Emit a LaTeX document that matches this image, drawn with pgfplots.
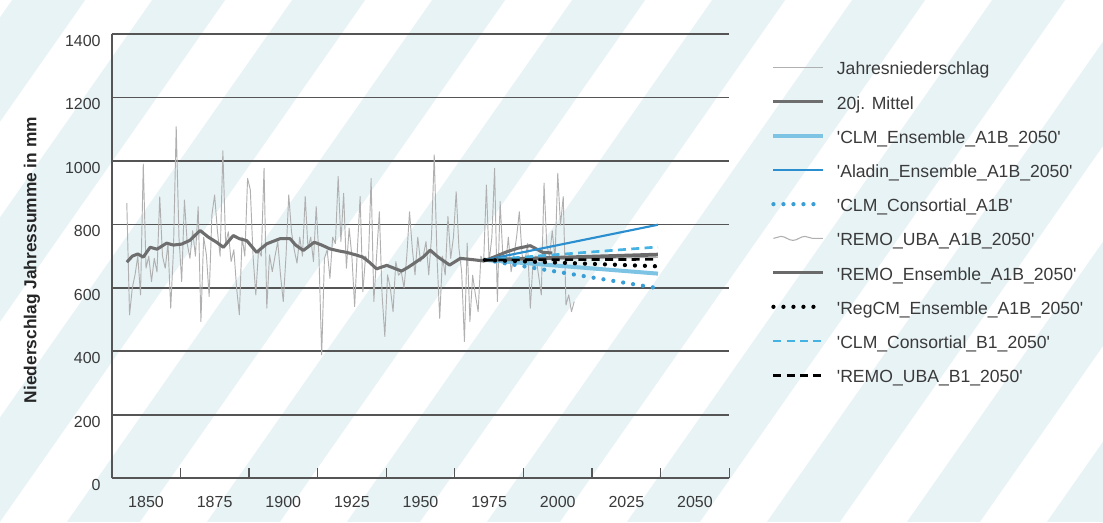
\documentclass[border=0pt]{standalone}
\usepackage{fontspec}
\setmainfont{Liberation Sans}
\usepackage{pgfplots}
\pgfplotsset{compat=1.18}
\usetikzlibrary{decorations.pathmorphing}
\definecolor{bgblue}{HTML}{E8F3F6}
\definecolor{gridgray}{HTML}{555555}
\definecolor{txtgray}{HTML}{3A3A3A}
\definecolor{annual}{HTML}{B0B0B0}
\definecolor{meangray}{HTML}{6E6E6E}
\definecolor{clmens}{HTML}{7CC3E4}
\definecolor{aladin}{HTML}{2A8ECF}
\definecolor{clmcons}{HTML}{3A9ED6}
\definecolor{remouba}{HTML}{B0B0B0}
\definecolor{remoens}{HTML}{6A6A6A}
\definecolor{clmb}{HTML}{44B2E2}
\newcommand{\q}{\textquotesingle}
\pgfplotsset{snakeimg/.style={legend image code/.code={\draw[##1, decorate, decoration={snake, amplitude=1.5pt, segment length=18pt}] (0pt,1pt) -- (37pt,1pt);}}}
\begin{document}
\begin{tikzpicture}
\begin{scope}
\clip (0,0) rectangle (827.25pt,391.5pt);
\fill[bgblue] (0,0) rectangle (827.25pt,391.5pt);
\foreach \i in {-4,...,9} {
  \fill[white] (\i*105pt,0) -- ++(50pt,0) -- ++(274pt,391.5pt) -- ++(-50pt,0) -- cycle;
}
\end{scope}
\begin{axis}[
  at={(83.78pt,32.78pt)}, anchor=south west,
  scale only axis, width=463.2pt, height=333.2pt,
  xmin=1837.5, xmax=2062.5, ymin=0, ymax=1400,
  axis x line*=bottom, axis y line*=left,
  axis line style={draw=gridgray, line width=1.2pt},
  xtick={1850,1875,1900,1925,1950,1975,2000,2025,2050},
  minor xtick={1862.5,1887.5,1912.5,1937.5,1962.5,1987.5,2012.5,2037.5,2062.5},
  ytick={0,200,400,600,800,1000,1200,1400},
  major tick length=0pt,
  minor tick length=8pt,
  tick align=inside,
  minor tick style={draw=gridgray, line width=1pt},
  ymajorgrids,
  major grid style={draw=gridgray, line width=1.3pt},
  xticklabel style={font=\fontsize{12}{14}\selectfont, text=txtgray, yshift=-10.2pt},
  yticklabel style={font=\fontsize{12}{14}\selectfont, text=txtgray, xshift=-4.8pt, yshift=-5pt},
  ylabel={Niederschlag Jahressumme in mm},
  ylabel style={font=\bfseries\fontsize{13}{15}\selectfont, text=black!85, at={(axis description cs:-0.1291,0.4913)}, anchor=center},
  legend style={at={(rel axis cs:1,1)}, anchor=north west, xshift=31.5pt, yshift=-19.7pt,
    draw=none, fill=none, inner sep=0pt, outer sep=0pt,
    font=\fontsize{13.2}{15.6}\selectfont, text=txtgray,
    row sep=13.25pt, column sep=9pt, nodes={inner sep=0pt}},
  legend cell align=left,
  legend image code/.code={\draw[#1] (0pt,1pt) -- (37pt,1pt);},
  /pgf/number format/1000 sep={},
  /pgf/number format/assume math mode=true,
]
\addplot[annual, line width=0.7pt, line join=round] table[row sep=\\] {
x y\\
1843 867\\ 1844 515\\ 1845 600\\ 1846 641\\ 1847 700\\ 1848 578\\ 1849 990\\ 1850 662\\
1851 700\\ 1852 620\\ 1853 693\\ 1854 650\\ 1855 887\\ 1856 700\\ 1857 662\\ 1858 740\\
1859 536\\ 1860 720\\ 1861 1108\\ 1862 760\\ 1863 620\\ 1864 877\\ 1865 740\\ 1866 693\\
1867 780\\ 1868 700\\ 1869 856\\ 1870 494\\ 1871 760\\ 1872 704\\ 1873 573\\ 1874 830\\
1875 893\\ 1876 780\\ 1877 700\\ 1878 1032\\ 1879 740\\ 1880 777\\ 1881 683\\ 1882 720\\
1883 600\\ 1884 515\\ 1885 760\\ 1886 700\\ 1887 945\\ 1888 909\\ 1889 700\\ 1890 578\\
1891 720\\ 1892 700\\ 1893 977\\ 1894 536\\ 1895 704\\ 1896 651\\ 1897 700\\ 1898 746\\
1899 640\\ 1900 557\\ 1901 700\\ 1902 893\\ 1903 777\\ 1904 720\\ 1905 678\\ 1906 760\\
1907 700\\ 1908 888\\ 1909 725\\ 1910 760\\ 1911 683\\ 1912 856\\ 1913 700\\ 1914 389\\
1915 693\\ 1916 720\\ 1917 630\\ 1918 760\\ 1919 740\\ 1920 951\\ 1921 746\\ 1922 898\\
1923 662\\ 1924 788\\ 1925 700\\ 1926 541\\ 1927 720\\ 1928 888\\ 1929 588\\ 1930 700\\
1931 680\\ 1932 945\\ 1933 557\\ 1934 700\\ 1935 840\\ 1936 578\\ 1937 447\\ 1938 641\\
1939 600\\ 1940 525\\ 1941 683\\ 1942 640\\ 1943 651\\ 1944 600\\ 1945 700\\ 1946 840\\
1947 725\\ 1948 641\\ 1949 760\\ 1950 683\\ 1951 700\\ 1952 746\\ 1953 641\\ 1954 760\\
1955 1019\\ 1956 700\\ 1957 504\\ 1958 700\\ 1959 640\\ 1960 825\\ 1961 693\\ 1962 760\\
1963 903\\ 1964 725\\ 1965 650\\ 1966 431\\ 1967 741\\ 1968 494\\ 1969 640\\ 1970 578\\
1971 525\\ 1972 700\\ 1973 680\\ 1974 924\\ 1975 683\\ 1976 760\\ 1977 977\\ 1978 557\\
1979 872\\ 1980 700\\ 1981 672\\ 1982 760\\ 1983 651\\ 1984 700\\ 1985 760\\ 1986 840\\
1987 704\\ 1988 680\\ 1989 740\\ 1990 536\\ 1991 683\\ 1992 700\\ 1993 640\\ 1994 578\\
1995 930\\ 1996 735\\ 1997 700\\ 1998 780\\ 1999 690\\ 2000 961\\ 2001 798\\ 2002 888\\
2003 546\\ 2004 578\\ 2005 525\\ 2006 557\\
};
\addlegendentry{\strut Jahresniederschlag}
\addplot[meangray, line width=2.3pt, line join=round] table[row sep=\\] {
x y\\
1843 681\\ 1845 700\\ 1847 707\\ 1849 697\\ 1851.5 728\\ 1854 722\\ 1857.5 741\\ 1860 735\\
1863 738\\ 1866 750\\ 1869.7 781\\ 1872.7 760\\ 1875.5 745\\ 1878.2 728\\ 1881.8 765\\ 1884 755\\
1886.7 749\\ 1890.3 712\\ 1894 739\\ 1898.8 755\\ 1902.5 755\\ 1904.5 735\\ 1907.3 718\\ 1911.3 744\\
1914 735\\ 1917 723\\ 1920.5 716\\ 1923.1 712\\ 1926.8 703\\ 1929 697\\ 1931.5 680\\ 1934 660\\
1937.7 671\\ 1940.7 661\\ 1943.1 653\\ 1945.5 665\\ 1947.4 676\\ 1951.1 698\\ 1953.5 719\\ 1956.3 698\\
1960.6 672\\ 1964.5 693\\ 1968 690\\ 1973 685\\ 1977 698\\ 1981.5 714\\ 1985.5 725\\ 1990 733\\
1994.5 712\\ 1998 710\\
};
\addlegendentry{\strut 20j. Mittel}
\addplot[clmens, line width=3pt] coordinates {(1973.5,688) (2036.5,645)};
\addlegendentry{\strut \q CLM\_Ensemble\_A1B\_2050\q}
\addplot[aladin, line width=1.6pt] coordinates {(1973.5,688) (2036.5,799)};
\addlegendentry{\strut \q Aladin\_Ensemble\_A1B\_2050\q}
\addplot[clmcons, line width=3.2pt, line cap=round, dash pattern=on 0pt off 7.5pt] coordinates {(1973.5,688) (2036.5,599)};
\addlegendentry{\strut \q CLM\_Consortial\_A1B\q}
\addplot[remouba, line width=0.8pt, snakeimg] coordinates {(1973.5,688) (2036.5,696)};
\addlegendentry{\strut \q REMO\_UBA\_A1B\_2050\q}
\addplot[remoens, line width=2.8pt] coordinates {(1973.5,688) (2036.5,705)};
\addlegendentry{\strut \q REMO\_Ensemble\_A1B\_2050\q}
\addplot[black, line width=3.2pt, line cap=round, dash pattern=on 0pt off 7.5pt] coordinates {(1973.5,688) (2036.5,668)};
\addlegendentry{\strut \q RegCM\_Ensemble\_A1B\_2050\q}
\addplot[clmb, line width=2pt, dash pattern=on 6pt off 4pt] coordinates {(1973.5,688) (2036.5,729)};
\addlegendentry{\strut \q CLM\_Consortial\_B1\_2050\q}
\addplot[black, line width=2pt, dash pattern=on 6pt off 4pt] coordinates {(1973.5,688) (2036.5,690)};
\addlegendentry{\strut \q REMO\_UBA\_B1\_2050\q}
\end{axis}
\pgfresetboundingbox
\path[use as bounding box] (0,0) rectangle (827.25pt,391.5pt);
\end{tikzpicture}
\end{document}
